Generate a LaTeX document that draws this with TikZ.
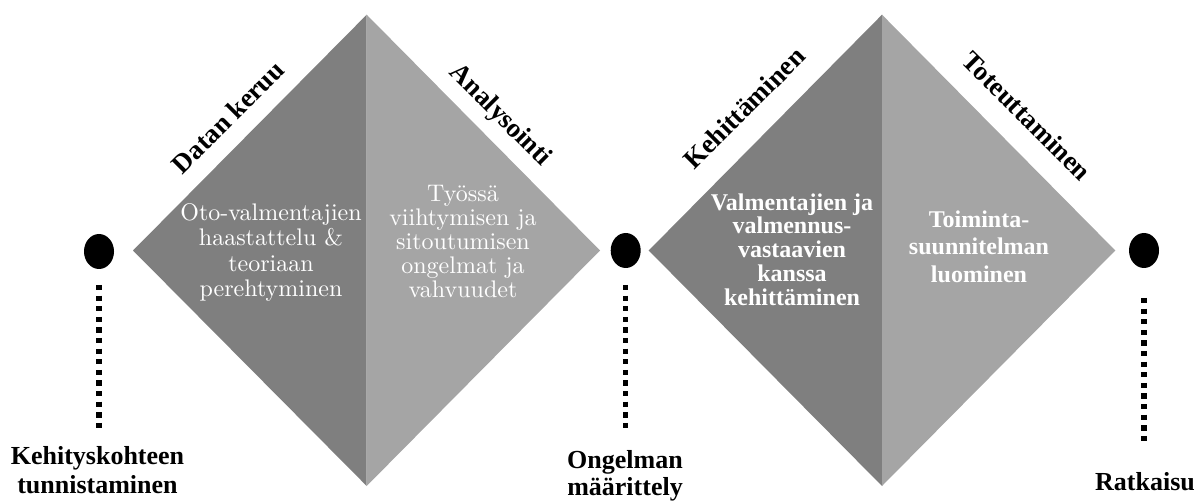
\documentclass[tikz,border=0pt]{standalone}
\usepackage{fontspec}
\newfontfamily\labfont{Liberation Serif}
\newfontfamily\regfont{lmroman10-regular}[Extension=.otf]
\usetikzlibrary{shapes.geometric}
\definecolor{darkg}{HTML}{7F7F7F}
\definecolor{lightg}{HTML}{A5A5A5}
\begin{document}
\begin{tikzpicture}[x=1pt,y=-1pt,
  dotnode/.style={ellipse, fill=black, minimum width=30pt, minimum height=35pt, inner sep=0pt},
  dotline/.style={line width=5.3pt, dash pattern=on 5.3pt off 5.3pt},
  phase/.style={font=\labfont\bfseries\fontsize{27}{30}\selectfont, inner sep=0pt},
  milestone/.style={align=center, inner sep=0pt},
  innerreg/.style={text=white, align=center, inner sep=0pt},
  innerbold/.style={text=white, align=center, inner sep=0pt}
]
\useasboundingbox (0,0) rectangle (1199,502);

% diamond 1
\coordinate (L1) at (133,250.5);
\coordinate (T1) at (366.7,14.7);
\coordinate (R1) at (600,250.5);
\coordinate (B1) at (366.7,486);
\fill[darkg] (L1) -- (T1) -- (B1) -- cycle;
\fill[lightg] (T1) -- (R1) -- (B1) -- cycle;

% diamond 2
\coordinate (L2) at (648.7,250.5);
\coordinate (T2) at (882,14.7);
\coordinate (R2) at (1115.3,250.5);
\coordinate (B2) at (882,486);
\fill[darkg] (L2) -- (T2) -- (B2) -- cycle;
\fill[lightg] (T2) -- (R2) -- (B2) -- cycle;

% milestone dots
\node[dotnode] (d1) at (99,251.5) {};
\node[dotnode] (d2) at (625.7,250.5) {};
\node[dotnode] (d3) at (1144,250.5) {};

% phase labels
\node[phase, rotate=45] (p1) at (228,117) {Datan keruu};
\node[phase, rotate=-45] (p2) at (500,116) {Analysointi};
\node[phase, rotate=45] (p3) at (744,108) {Kehittäminen};
\node[phase, rotate=-45] (p4) at (1027,116) {Toteuttaminen};

% inner texts
\node[innerreg, font=\regfont\fontsize{24}{25.5}\selectfont] (t1) at (271,252.5)
  {Oto-valmentajien\\haastattelu \&\\teoriaan\\perehtyminen};
\node[innerreg, font=\regfont\fontsize{24}{24}\selectfont] (t2) at (463,242)
  {Työssä\\viihtymisen ja\\sitoutumisen\\ongelmat ja\\vahvuudet};
\node[innerbold, font=\labfont\bfseries\fontsize{24}{23.75}\selectfont] (t3) at (792,249.4)
  {Valmentajien ja\\valmennus-\\vastaavien\\kanssa\\kehittäminen};
\node[innerbold, font=\labfont\bfseries\fontsize{24}{27.5}\selectfont] (t4) at (979,246.5)
  {Toiminta-\\suunnitelman\\luominen};

% milestone labels
\node[milestone, font=\labfont\bfseries\fontsize{26}{29}\selectfont] (k1) at (97.5,469.7)
  {Kehityskohteen\\tunnistaminen};
\node[milestone, font=\labfont\bfseries\fontsize{26}{27}\selectfont] (k2) at (625,476)
  {Ongelman\\määrittely};
\node[milestone, anchor=base, font=\labfont\bfseries\fontsize{26}{29}\selectfont] (k3) at (1145,490.7)
  {Ratkaisu};

% dotted connectors
\coordinate (s1) at (99,285);
\coordinate (e1) at (99,428);
\coordinate (s2) at (625.7,285);
\coordinate (e2) at (625.7,428);
\coordinate (s3) at (1144,298);
\coordinate (e3) at (1144,442);
\draw[dotline] (s1) -- (e1);
\draw[dotline] (s2) -- (e2);
\draw[dotline] (s3) -- (e3);
\end{tikzpicture}
\end{document}
